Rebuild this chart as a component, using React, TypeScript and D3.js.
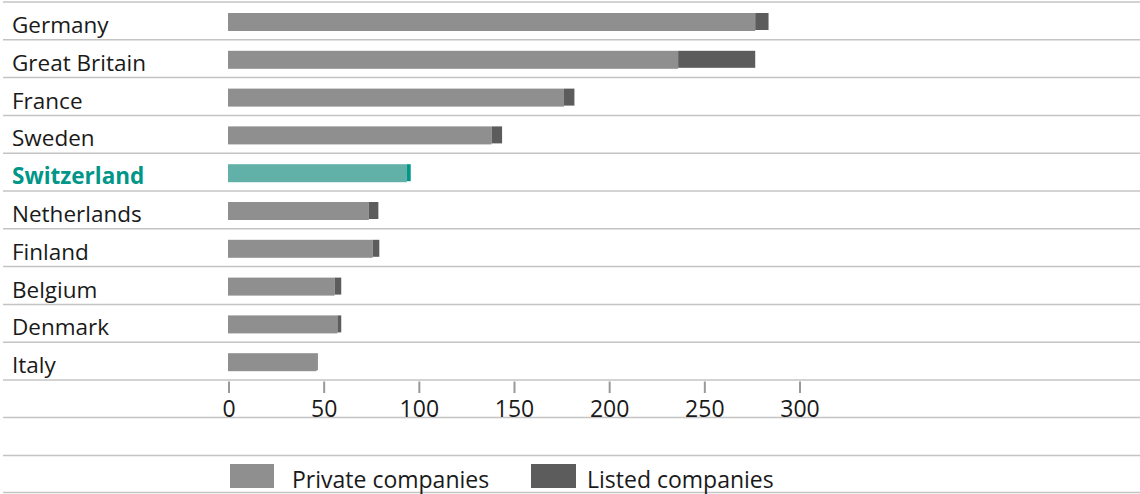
import React from "react";
import * as d3 from "d3";

const countries = ["Germany", "Great Britain", "France", "Sweden", "Switzerland", "Netherlands", "Finland", "Belgium", "Denmark", "Italy"];
const privateCompanies = [277, 236.5, 176.5, 138.5, 94, 74, 76, 56, 57.5, 46.5];
const listedCompanies = [7, 40.5, 5.5, 5.5, 2, 5, 3.5, 3.5, 2, 0.6];
const ticks = [0, 50, 100, 150, 200, 250, 300];
const highlight = "Switzerland";
const legendLabels = ["Private companies", "Listed companies"];

const W = 1140;
const H = 494;
const FONT = "'Open Sans', 'Noto Sans', sans-serif";

export default function App() {
  const y = d3.scaleBand<string>().domain(countries).range([2, 380]).padding(0);
  const x = d3.scaleLinear().domain([0, 300]).range([228, 799]);
  const grid = [...countries.map((c) => y(c)!), 380, 417.5, 455.5, 492.5];

  return (
    <div style={{ position: "absolute", left: 0, top: 0 }}>
      <svg width={W} height={H} style={{ display: "block" }}>
        <rect x={0} y={0} width={W} height={H} fill="#fff" />
        {grid.map((g, i) => (
          <line key={i} x1={3} x2={W} y1={g} y2={g} stroke="#c4c4c4" strokeWidth={1.5} />
        ))}
        {countries.map((c, i) => {
          const hi = c === highlight;
          const top = y(c)! + 11;
          const p = privateCompanies[i];
          const l = listedCompanies[i];
          return (
            <g key={c}>
              <text x={12} y={y(c)! + 31} fontFamily={FONT} fontSize={22.5} fontWeight={hi ? 700 : 400} fill={hi ? "#009688" : "#1a1a1a"}>
                {c}
              </text>
              <rect x={x(0)} y={top} width={x(p) - x(0)} height={18} fill={hi ? "#62b1a9" : "#8f8f8f"} />
              <rect x={x(p)} y={top} width={x(p + l) - x(p)} height={17} fill={hi ? "#00968a" : "#5c5c5c"} />
            </g>
          );
        })}
        {ticks.map((t) => (
          <g key={t}>
            <line x1={x(t) + 1} x2={x(t) + 1} y1={381.5} y2={393} stroke="#999" strokeWidth={2} />
            <text x={x(t) + 1} y={416.5} textAnchor="middle" fontFamily={FONT} fontSize={23} fill="#1a1a1a">
              {t}
            </text>
          </g>
        ))}
        <rect x={230} y={464} width={44} height={24} fill="#8f8f8f" />
        <text x={292} y={487.5} fontFamily={FONT} fontSize={23} fill="#1a1a1a">{legendLabels[0]}</text>
        <rect x={531} y={464} width={45} height={24} fill="#5c5c5c" />
        <text x={587} y={487.5} fontFamily={FONT} fontSize={23} fill="#1a1a1a">{legendLabels[1]}</text>
      </svg>
    </div>
  );
}
